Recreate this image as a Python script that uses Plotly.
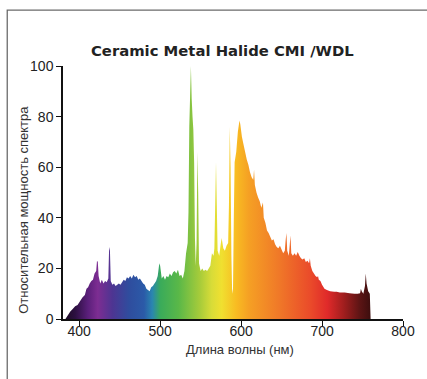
import plotly.graph_objects as go

# Spectrum (wavelength in nm, relative power)
wavelength = [
    380, 383, 386, 389, 392, 395, 398, 401, 404, 407, 409, 411, 413, 415, 417, 419, 421, 422, 423, 424,
    426, 428, 430, 432, 434, 436, 437, 438, 439, 441, 443, 445, 447, 449, 451, 453, 455, 457, 459, 461,
    463, 465, 467, 469, 471, 473, 475, 477, 479, 481, 483, 485, 487, 489, 491, 493, 495, 497, 499, 500,
    502, 504, 506, 508, 510, 512, 514, 516, 518, 520, 522, 524, 526, 528, 530, 532, 534, 535, 536, 537,
    538, 539, 540, 541, 542, 543, 544, 545, 546, 547, 548, 550, 552, 554, 556, 558, 560, 562, 564, 566,
    567, 568, 569, 570, 571, 573, 575, 576, 578, 580, 582, 584, 585, 586, 587, 588, 589, 590, 591, 592,
    594, 596, 598, 599, 601, 603, 605, 607, 609, 611, 613, 615, 616, 617, 619, 621, 623, 625, 627, 628,
    630, 632, 634, 636, 638, 640, 642, 644, 646, 648, 650, 652, 654, 655, 656, 657, 659, 661, 662, 664,
    666, 668, 670, 672, 674, 676, 678, 680, 682, 684, 685, 686, 688, 690, 692, 694, 695, 696, 698, 700,
    703, 706, 710, 715, 718, 722, 728, 734, 740, 744, 747, 748, 749, 751, 753, 754, 755, 757, 759, 760,
]
power = [
    0, 0, 1.5, 3, 4, 5, 5.5, 7, 8.5, 9.5, 12, 12.5, 14, 15, 15.5, 18, 19, 23, 22.5, 17,
    14, 15.5, 14, 15, 14.5, 16, 28.5, 27, 15, 13.5, 14, 13, 13.5, 14, 13.5, 14.5, 15.5, 15, 16.5, 16,
    17, 16, 17.5, 16.5, 17, 15.5, 16, 15, 14, 13.5, 12, 11.5, 11, 12.5, 13, 14, 15, 17, 22, 21,
    16, 17, 15.5, 17, 16.5, 18, 17, 18.5, 19, 18, 19.5, 17, 17.5, 16, 19, 26, 30, 42, 76, 88,
    100, 87, 80, 75, 62, 32, 21, 30, 66, 50, 22, 19, 20, 19, 19.5, 19, 20, 21, 26, 25,
    28, 45, 62, 45, 27, 25, 30, 32, 28, 27, 29, 30, 45, 76, 60, 25, 10, 12, 40, 62,
    66, 74, 78.5, 77, 72, 69, 66, 63, 61, 58, 56, 55, 59, 53, 50, 48, 46.5, 44, 46, 40,
    38, 35, 34, 32.5, 31, 31.5, 29.5, 28.5, 28, 29, 27.5, 26, 27, 31, 34, 27, 25, 33, 26, 25,
    26, 25, 26.5, 25, 24, 23.5, 24, 22.5, 23, 22, 24, 21, 19, 18, 17, 16.5, 17, 15.5, 15, 13.5,
    12, 11.5, 11, 10.8, 10.8, 10.5, 10.5, 10.2, 10, 10, 10.2, 12, 11, 10, 13, 18, 14, 11, 10, 0,
]

# Spectral colours, wavelength -> colour
color_nm = [380, 395, 410, 422, 440, 460, 478, 488, 498, 520, 546, 560, 572, 590, 605, 640, 680, 700, 720, 740, 760]
color_hex = ['#1a0a1e', '#2d1042', '#5a1f7a', '#7d2d92', '#4d3592', '#2f4d9e', '#2b5aa8', '#2a86b0', '#3aab5a',
             '#5ab848', '#a8cc3a', '#d8dc38', '#f0e030', '#f8bb22', '#f5a024', '#f07a28', '#ea4a2a', '#e02a2a',
             '#a01e1e', '#5a1414', '#2a0a0a']

x_ticks = [400, 500, 600, 700, 800]
y_ticks = [0, 20, 40, 60, 80, 100]

lo, hi = color_nm[0], color_nm[-1]
colorscale = [[(w - lo) / (hi - lo), c] for w, c in zip(color_nm, color_hex)]

fig = go.Figure()
fig.add_trace(go.Scatter(
    x=wavelength, y=power,
    mode='none',
    fill='tozeroy',
    fillgradient=dict(type='horizontal', colorscale=colorscale, start=lo, stop=hi),
    hoverinfo='skip',
))

axis_font = dict(family='Liberation Sans, Arial, sans-serif', size=14, color='#222222')
label_font = dict(family='Liberation Sans, Arial, sans-serif', size=13, color='#333333')

fig.update_layout(
    width=427, height=379,
    margin=dict(l=63, r=17, t=66, b=60),
    paper_bgcolor='white', plot_bgcolor='white',
    showlegend=False,
    xaxis=dict(range=[380, 800], tickvals=x_ticks, ticks='outside', ticklen=5, tickwidth=1.3,
               tickcolor='#111111', showline=True, linecolor='#111111', linewidth=1.5,
               showgrid=False, zeroline=False, tickfont=axis_font, fixedrange=True,
               ticklabelstandoff=-7),
    yaxis=dict(range=[0, 100], tickvals=y_ticks, ticks='outside', ticklen=5, tickwidth=1.3,
               tickcolor='#111111', showline=True, linecolor='#111111', linewidth=1.5,
               showgrid=False, zeroline=False, tickfont=axis_font, fixedrange=True),
    shapes=[dict(type='rect', xref='paper', yref='paper', x0=-0.164, x1=1.3, y0=-1, y1=1.221,
                 line=dict(color='#6b6b6b', width=1.3), layer='below')],
    annotations=[
        dict(text='<b>Ceramic Metal Halide CMI /WDL</b>', xref='paper', yref='paper', x=0.47, y=1.063,
             xanchor='center', yanchor='middle', showarrow=False,
             font=dict(family='DejaVu Sans, Verdana, sans-serif', size=14.8, color='#222222')),
        dict(text='Относительная мощность спектра', xref='paper', yref='paper', x=-0.115, y=0.431,
             xanchor='center', yanchor='middle', textangle=-90, showarrow=False, font=label_font),
        dict(text='Длина волны (нм)', xref='paper', yref='paper', x=0.522, y=-0.119,
             xanchor='center', yanchor='middle', showarrow=False, font=label_font),
    ],
)

# the page body has a default 8px margin; remove it so the figure sits at the window corner
fig.write_html('out.html', config={'displayModeBar': False},
               post_script="document.body.style.margin='0';")
